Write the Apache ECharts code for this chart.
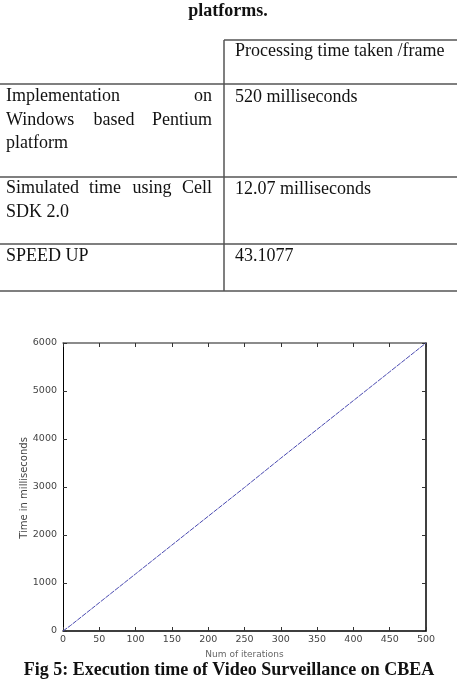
<!DOCTYPE html>
<html><head><meta charset="utf-8">
<script src="https://cdn.jsdelivr.net/npm/echarts@6/dist/echarts.min.js"></script>
<style>html,body{margin:0;padding:0;background:#fff}#c{width:457px;height:681px}</style>
</head><body><div id="c"></div>
<script>
const iterations = [0, 10, 50, 100, 150, 200, 250, 300, 350, 400, 450, 500];
const timeMs = [0, 110, 590, 1190, 1790, 2390, 2990, 3600, 4200, 4800, 5400, 6000];
const xTicks = [0, 50, 100, 150, 200, 250, 300, 350, 400, 450, 500];
const yTicks = [0, 1000, 2000, 3000, 4000, 5000, 6000];
const tableHeader = 'Processing time taken /frame';
const tableRows = [
  ['Implementation on Windows based Pentium platform', '520 milliseconds'],
  ['Simulated time using Cell SDK 2.0', '12.07 milliseconds'],
  ['SPEED UP', '43.1077']
];

const serif = '"Liberation Serif", "Times New Roman", serif';
const FS = 18;
function txt(s, x, y, align, opts) {
  return { type: 'text', x: x, y: y, style: Object.assign({ text: s, font: FS + 'px ' + serif, fill: '#111', textAlign: align || 'left', textVerticalAlign: 'middle' }, opts || {}) };
}
function ln(x1, y1, x2, y2, c, w) {
  return { type: 'line', shape: { x1: x1, y1: y1, x2: x2, y2: y2 }, style: { stroke: c || '#555', lineWidth: w || 1.5 } };
}
const L = 6, R = 212, RC = 235;
const yName = 'Time in milliseconds';
const g = [
  txt('platforms.', 228, 11, 'center', { font: 'bold 18px ' + serif }),
  ln(224, 40, 457, 40), ln(224, 40, 224, 291),
  ln(0, 84, 457, 84), ln(0, 177, 457, 177), ln(0, 244, 457, 244), ln(0, 291, 457, 291),
  txt(tableHeader, RC, 51),
  txt('Implementation', L, 96), txt('on', R, 96, 'right'),
  txt('Windows', L, 120), txt('based', 114, 120, 'center'), txt('Pentium', R, 120, 'right'),
  txt('platform', L, 143),
  txt(tableRows[0][1], RC, 97),
  txt('Simulated', L, 188), txt('time', 105, 188, 'center'), txt('using', 152, 188, 'center'), txt('Cell', R, 188, 'right'),
  txt('SDK 2.0', L, 212),
  txt(tableRows[1][1], RC, 189),
  txt(tableRows[2][0], L, 256),
  txt(tableRows[2][1], RC, 256),
  { type: 'text', x: 24, y: 488, rotation: Math.PI / 2,
    style: { text: yName, font: '10px "DejaVu Sans"', fill: '#444', textAlign: 'center', textVerticalAlign: 'middle' } },
  txt('Fig 5: Execution time of Video Surveillance on CBEA', 229, 670, 'center', { font: 'bold 18px ' + serif })
];

const chart = echarts.init(document.getElementById('c'), null, { renderer: 'canvas' });
const lblStyle = { color: '#444', fontSize: 9.5, fontFamily: 'DejaVu Sans', formatter: v => String(v) };
chart.setOption({
  animation: false,
  grid: { left: 63, right: 31, top: 343, bottom: 50 },
  xAxis: [
    { type: 'value', min: 0, max: 500, interval: 50, position: 'bottom',
      name: 'Num of iterations', nameLocation: 'middle', nameGap: 19,
      nameTextStyle: { color: '#666', fontSize: 9, fontFamily: 'DejaVu Sans' },
      axisLine: { onZero: false, lineStyle: { color: '#000', width: 1.5 } },
      axisTick: { inside: true, length: 4, lineStyle: { color: '#333' } },
      axisLabel: Object.assign({ margin: 4 }, lblStyle), splitLine: { show: false } },
    { type: 'value', min: 0, max: 500, interval: 50, position: 'top',
      axisLine: { onZero: false, lineStyle: { color: '#666', width: 1.5 } },
      axisTick: { inside: true, length: 4, lineStyle: { color: '#333' } },
      axisLabel: { show: false }, splitLine: { show: false } }
  ],
  yAxis: [
    { type: 'value', min: 0, max: 6000, interval: 1000, position: 'left',
      axisLine: { show: true, onZero: false, lineStyle: { color: '#000', width: 1 } },
      axisTick: { show: true, inside: true, length: 4, lineStyle: { color: '#333' } },
      axisLabel: Object.assign({ margin: 6 }, lblStyle), splitLine: { show: false } },
    { type: 'value', min: 0, max: 6000, interval: 1000, position: 'right',
      axisLine: { show: true, onZero: false, lineStyle: { color: '#000', width: 1.5 } },
      axisTick: { show: true, inside: true, length: 4, lineStyle: { color: '#333' } },
      axisLabel: { show: false }, splitLine: { show: false } }
  ],
  series: [{
    type: 'line', xAxisIndex: 0, yAxisIndex: 0, showSymbol: false,
    data: iterations.map((v, i) => [v, timeMs[i]]),
    lineStyle: { color: '#4a4ab0', width: 1, type: [5, 1] }
  }],
  graphic: g
});
</script></body></html>
